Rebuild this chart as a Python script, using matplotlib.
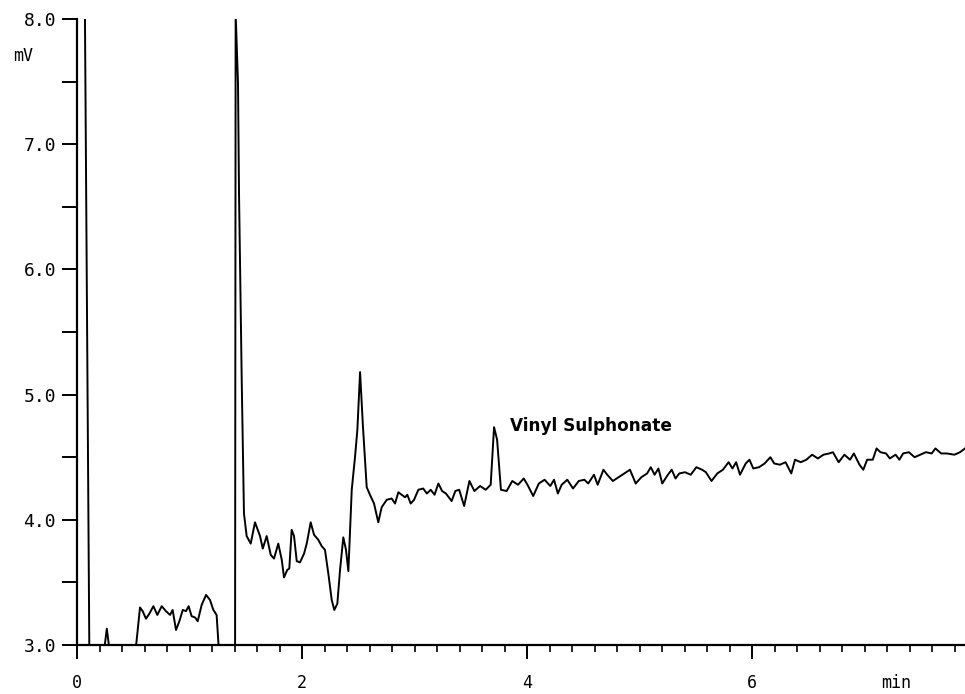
"""Ion chromatogram trace (mV vs min) with the vinyl sulphonate peak labelled."""

import matplotlib

matplotlib.use("Agg")
import matplotlib.pyplot as plt  # noqa: E402
from matplotlib.ticker import FixedLocator, MultipleLocator  # noqa: E402

# Early part: solvent front (off-scale), small bump and the low hump (values < 3 are off-scale)
t_front = [0.0, 0.0, 0.07, 0.11, 0.24, 0.265, 0.29, 0.52, 0.56, 0.584,
           0.613, 0.643, 0.679, 0.714, 0.753, 0.791, 0.827, 0.85, 0.88, 0.91,
           0.94, 0.969, 0.992, 1.019, 1.049, 1.073, 1.108, 1.147, 1.182, 1.212,
           1.241, 1.265, 1.405]
mv_front = [2.9, 8.1, 8.1, 2.9, 2.95, 3.13, 2.95, 2.95, 3.30, 3.27,
            3.21, 3.25, 3.31, 3.24, 3.31, 3.27, 3.24, 3.28, 3.12, 3.19,
            3.28, 3.27, 3.31, 3.23, 3.22, 3.19, 3.32, 3.40, 3.36, 3.28,
            3.24, 2.9, 2.9]

# Second off-scale peak, the dip region and the unknown peak near 2.5 min
t_mid = [1.41, 1.431, 1.44, 1.464, 1.484, 1.508, 1.544, 1.582, 1.627, 1.651,
         1.686, 1.722, 1.751, 1.789, 1.820, 1.840, 1.869, 1.887, 1.908, 1.929,
         1.953, 1.982, 2.018, 2.042, 2.077, 2.107, 2.145, 2.175, 2.204, 2.234,
         2.264, 2.287, 2.314, 2.338, 2.367, 2.391, 2.412, 2.442, 2.471, 2.492,
         2.516, 2.542, 2.560, 2.575, 2.604, 2.640, 2.678, 2.708, 2.753, 2.797,
         2.827, 2.856, 2.886, 2.916, 2.936, 2.966, 2.996, 3.034]
mv_mid = [8.05, 7.49, 6.61, 5.12, 4.05, 3.87, 3.81, 3.98, 3.87, 3.77,
          3.87, 3.72, 3.69, 3.81, 3.68, 3.54, 3.60, 3.61, 3.92, 3.87,
          3.67, 3.66, 3.73, 3.81, 3.98, 3.88, 3.84, 3.79, 3.76, 3.57,
          3.36, 3.28, 3.33, 3.60, 3.86, 3.76, 3.59, 4.24, 4.50, 4.72,
          5.18, 4.74, 4.48, 4.26, 4.20, 4.13, 3.98, 4.10, 4.16, 4.17,
          4.13, 4.22, 4.20, 4.18, 4.20, 4.13, 4.16, 4.24]

# Drifting baseline with the vinyl sulphonate peak at ~3.7 min
t_tail = [3.077, 3.110, 3.144, 3.178, 3.212, 3.245, 3.279, 3.330, 3.363, 3.397,
          3.441, 3.488, 3.532, 3.583, 3.633, 3.677, 3.707, 3.734, 3.768, 3.819,
          3.869, 3.920, 3.971, 4.004, 4.055, 4.105, 4.156, 4.207, 4.240, 4.274,
          4.308, 4.358, 4.409, 4.460, 4.510, 4.544, 4.595, 4.628, 4.679, 4.713,
          4.763, 4.814, 4.864, 4.915, 4.966, 5.016, 5.067, 5.100, 5.134, 5.168,
          5.202, 5.252, 5.286, 5.320, 5.353, 5.404, 5.455, 5.505, 5.556, 5.590,
          5.640, 5.691, 5.741, 5.792, 5.826, 5.859, 5.893, 5.944, 5.977, 6.011,
          6.062, 6.112, 6.163, 6.197, 6.247, 6.298, 6.349, 6.382, 6.433, 6.483,
          6.534, 6.585, 6.635, 6.686, 6.719, 6.770, 6.821, 6.871, 6.905, 6.955,
          6.989, 7.023, 7.073, 7.107, 7.141, 7.191, 7.225, 7.276, 7.310, 7.343,
          7.394, 7.445, 7.495, 7.546, 7.597, 7.630, 7.681, 7.731, 7.799, 7.849,
          7.893]
mv_tail = [4.25, 4.21, 4.24, 4.20, 4.29, 4.23, 4.21, 4.15, 4.23, 4.24,
           4.11, 4.31, 4.23, 4.27, 4.24, 4.28, 4.74, 4.64, 4.24, 4.23,
           4.31, 4.28, 4.33, 4.28, 4.19, 4.29, 4.32, 4.27, 4.32, 4.21,
           4.28, 4.32, 4.25, 4.31, 4.32, 4.29, 4.36, 4.28, 4.40, 4.36,
           4.31, 4.34, 4.37, 4.40, 4.29, 4.34, 4.37, 4.42, 4.36, 4.41,
           4.29, 4.36, 4.40, 4.33, 4.37, 4.38, 4.36, 4.42, 4.40, 4.38,
           4.31, 4.37, 4.40, 4.46, 4.41, 4.46, 4.36, 4.45, 4.48, 4.41,
           4.42, 4.45, 4.50, 4.45, 4.44, 4.46, 4.37, 4.48, 4.46, 4.48,
           4.52, 4.49, 4.52, 4.53, 4.54, 4.46, 4.52, 4.48, 4.53, 4.44,
           4.40, 4.48, 4.48, 4.57, 4.54, 4.53, 4.49, 4.52, 4.48, 4.53,
           4.54, 4.50, 4.52, 4.54, 4.53, 4.57, 4.53, 4.53, 4.52, 4.54,
           4.57]

peak_label = "Vinyl Sulphonate"
x_major = [0, 2, 4, 6]
y_major = [3.0, 4.0, 5.0, 6.0, 7.0, 8.0]


def main() -> None:
    times = t_front + t_mid + t_tail
    signal = mv_front + mv_mid + mv_tail

    fig = plt.figure(figsize=(9.65, 6.94), dpi=100)
    ax = fig.add_axes([0.0798, 0.0706, 0.9202, 0.902])

    ax.plot(times, signal, color="black", linewidth=1.4, solid_joinstyle="round")

    ax.set_xlim(0, 7.893)
    ax.set_ylim(3.0, 8.0)

    for side in ("top", "right"):
        ax.spines[side].set_visible(False)
    for side in ("left", "bottom"):
        ax.spines[side].set_linewidth(1.6)

    mono = "DejaVu Sans Mono"
    ax.xaxis.set_major_locator(FixedLocator(x_major))
    ax.xaxis.set_minor_locator(MultipleLocator(0.2))
    ax.set_xticklabels([str(v) for v in x_major], family=mono, fontsize=12)
    ax.yaxis.set_major_locator(FixedLocator(y_major))
    ax.yaxis.set_minor_locator(MultipleLocator(0.5))
    ax.set_yticklabels([f"{v:.1f}" for v in y_major], family=mono, fontsize=13)

    ax.tick_params(axis="x", which="major", direction="out", length=10, width=1.4, pad=11)
    ax.tick_params(axis="x", which="minor", direction="out", length=5, width=1.2)
    ax.tick_params(axis="y", which="both", direction="out", length=11, width=1.4, pad=4)

    ax.text(7.28, -0.06, "min", transform=ax.get_xaxis_transform(), family=mono,
            fontsize=12, ha="center", va="center")
    fig.text(0.024, 0.919, "mV", family=mono, fontsize=12, ha="center", va="center")

    ax.text(3.85, 4.75, peak_label, family="DejaVu Sans", fontweight="bold",
            fontsize=12.2, ha="left", va="center")

    fig.savefig("out.png", dpi=100)


if __name__ == "__main__":
    main()
